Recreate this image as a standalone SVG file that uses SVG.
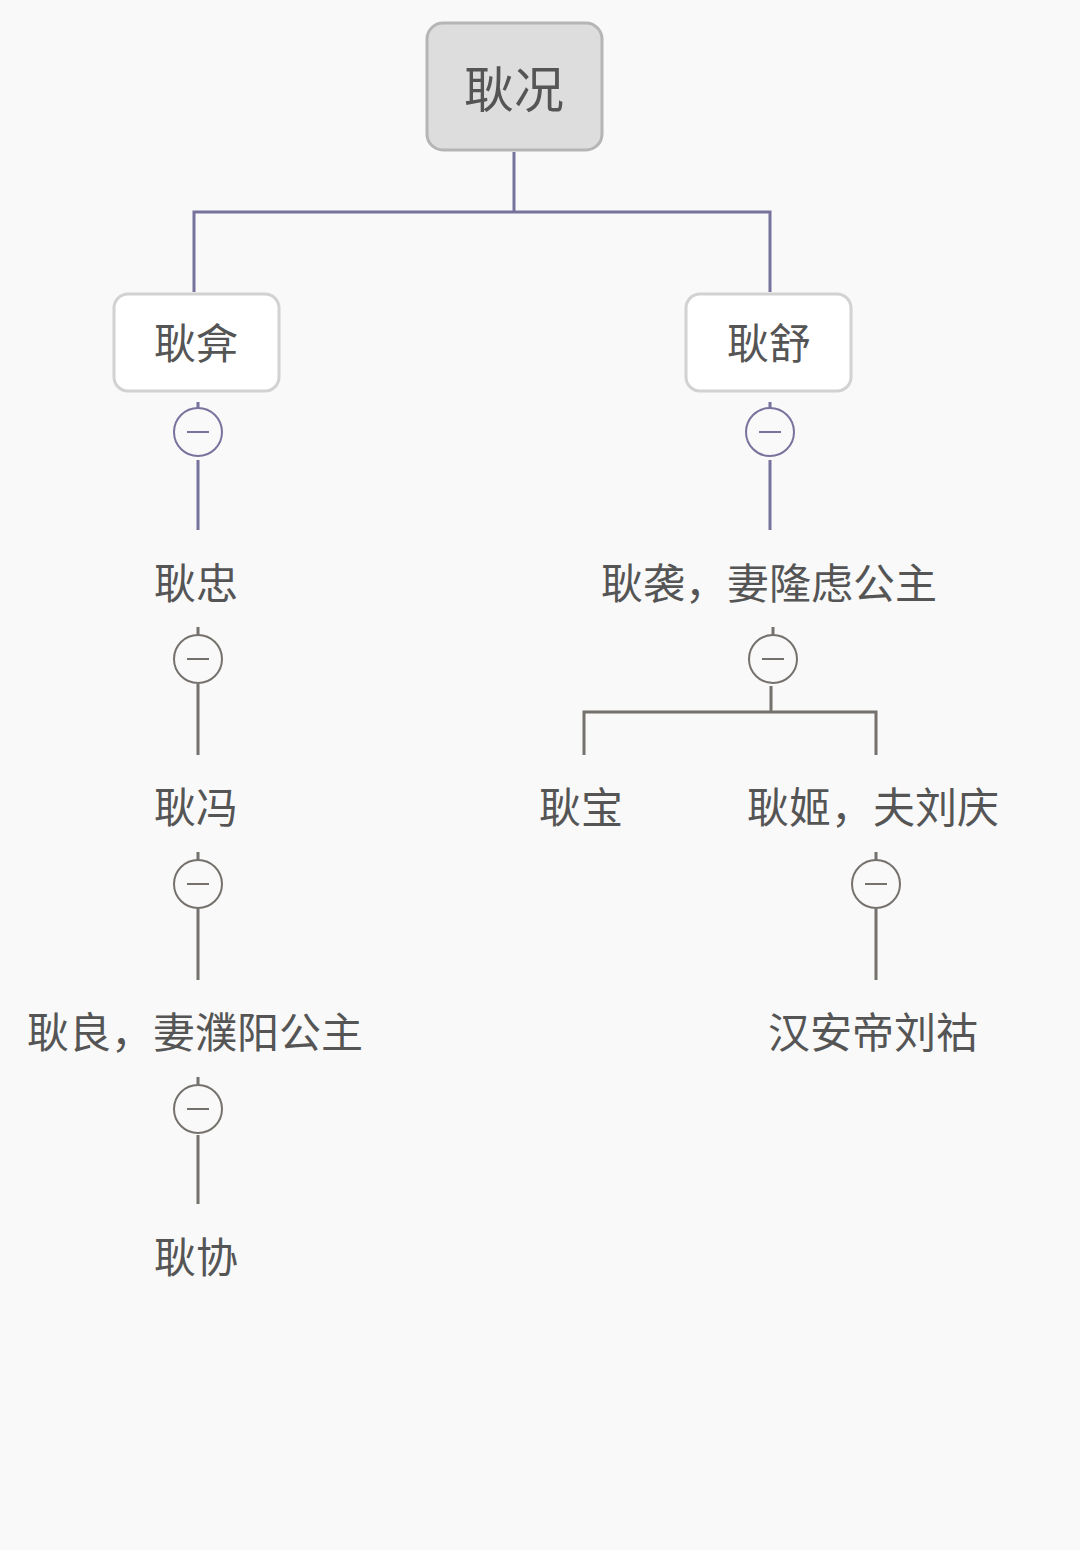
<svg xmlns="http://www.w3.org/2000/svg" width="1080" height="1550" viewBox="0 0 1080 1550">
<style>
text{font-family:"Noto Sans CJK SC","Noto Sans",sans-serif;fill:#555555;text-anchor:middle;dominant-baseline:central}
.t{font-size:42px}
.c1{fill:none;stroke:#77739c;stroke-width:3}
.c2{fill:none;stroke:#75716d;stroke-width:3}
.tg1{fill:#f9f9f9;stroke:#77739c;stroke-width:2}
.tg2{fill:#f9f9f9;stroke:#75716d;stroke-width:2}
.m1{stroke:#77739c;stroke-width:2}
.m2{stroke:#75716d;stroke-width:2}
</style>
<rect width="1080" height="1550" fill="#f9f9f9"/>
<g id="connectors">
<path class="c1" d="M514 152V212H194V292M514 212H770V292"/>
<path class="c1" d="M198 402V408M198 460V530M770 402V408M770 460V530"/>
<path class="c2" d="M198 627V635M198 684V755M198 852V860M198 909V980M198 1077V1085M198 1135V1204"/>
<path class="c2" d="M773 627V635M771 686V712M584 755V712H876V755"/>
<path class="c2" d="M876 852V860M876 909V980"/>
</g>
<g id="toggles">
<g><circle class="tg1" cx="198" cy="432" r="24"/><line class="m1" x1="187" y1="432" x2="209" y2="432"/></g>
<g><circle class="tg1" cx="770" cy="432" r="24"/><line class="m1" x1="759" y1="432" x2="781" y2="432"/></g>
<g><circle class="tg2" cx="198" cy="659" r="24"/><line class="m2" x1="187" y1="659" x2="209" y2="659"/></g>
<g><circle class="tg2" cx="198" cy="884" r="24"/><line class="m2" x1="187" y1="884" x2="209" y2="884"/></g>
<g><circle class="tg2" cx="198" cy="1109" r="24"/><line class="m2" x1="187" y1="1109" x2="209" y2="1109"/></g>
<g><circle class="tg2" cx="773" cy="659" r="24"/><line class="m2" x1="762" y1="659" x2="784" y2="659"/></g>
<g><circle class="tg2" cx="876" cy="884" r="24"/><line class="m2" x1="865" y1="884" x2="887" y2="884"/></g>
</g>
<g id="n-root"><rect x="427" y="23" width="175" height="127" rx="16" fill="#dddddd" stroke="#b5b5b5" stroke-width="3"/><text x="514" y="86" style="font-size:50px">耿况</text></g>
<g id="n-gengyan"><rect x="114" y="294" width="165" height="97" rx="14" fill="#ffffff" stroke="#d2d2d2" stroke-width="3"/><text class="t" x="196" y="340">耿弇</text></g>
<g id="n-gengshu"><rect x="686" y="294" width="165" height="97" rx="14" fill="#ffffff" stroke="#d2d2d2" stroke-width="3"/><text class="t" x="769" y="340">耿舒</text></g>
<g id="n-gengzhong"><text class="t" x="196" y="580">耿忠</text></g>
<g id="n-gengfeng"><text class="t" x="196" y="804">耿冯</text></g>
<g id="n-gengliang"><text class="t" x="195" y="1029">耿良，妻濮阳公主</text></g>
<g id="n-gengxie"><text class="t" x="196" y="1254">耿协</text></g>
<g id="n-gengxi"><text class="t" x="769" y="580">耿袭，妻隆虑公主</text></g>
<g id="n-gengbao"><text class="t" x="581" y="804">耿宝</text></g>
<g id="n-gengji"><text class="t" x="873" y="804">耿姬，夫刘庆</text></g>
<g id="n-andi"><text class="t" x="873" y="1029">汉安帝刘祜</text></g>
</svg>
